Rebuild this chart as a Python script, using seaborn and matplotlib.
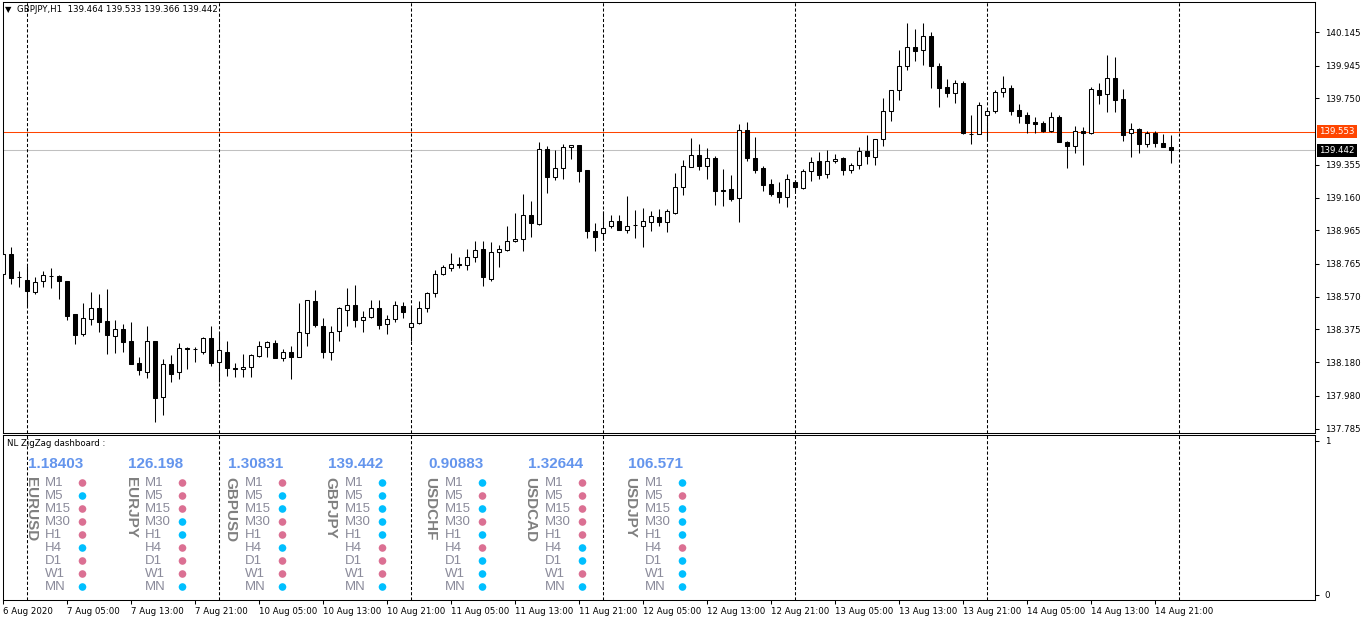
import numpy as np
import pandas as pd
import matplotlib
matplotlib.use("Agg")
import matplotlib.pyplot as plt
import matplotlib.transforms as mtransforms
import seaborn as sns

# ---------------- data ----------------
symbol = "GBPJPY,H1"
header_ohlc = [139.464, 139.533, 139.366, 139.442]

opens = [
    138.703, 138.822, 138.685, 138.667, 138.596, 138.661, 138.691, 138.691, 138.661, 138.470,
    138.351, 138.440, 138.500, 138.423, 138.339, 138.375, 138.304, 138.178, 138.125, 138.304,
    137.976, 138.172, 138.125, 138.262, 138.256, 138.244, 138.327, 138.184, 138.244, 138.143,
    138.137, 138.149, 138.220, 138.268, 138.292, 138.208, 138.244, 138.214, 138.357, 138.542,
    138.393, 138.244, 138.369, 138.494, 138.518, 138.429, 138.452, 138.500, 138.405, 138.435,
    138.512, 138.387, 138.411, 138.500, 138.590, 138.703, 138.739, 138.763, 138.757, 138.804,
    138.852, 138.673, 138.834, 138.846, 138.900, 138.912, 139.055, 139.001, 139.448, 139.281,
    139.335, 139.460, 139.472, 139.323, 138.959, 138.947, 138.989, 139.019, 138.965, 138.995,
    138.989, 139.013, 139.043, 139.013, 139.067, 139.222, 139.341, 139.412, 139.347, 139.394,
    139.204, 139.210, 139.156, 139.561, 139.394, 139.335, 139.239, 139.192, 139.162, 139.251,
    139.216, 139.317, 139.377, 139.299, 139.377, 139.394, 139.323, 139.353, 139.436, 139.400,
    139.508, 139.675, 139.800, 139.943, 140.056, 140.038, 140.122, 139.943, 139.818, 139.782,
    139.841, 139.537, 139.537, 139.651, 139.675, 139.788, 139.812, 139.681, 139.651, 139.609,
    139.603, 139.555, 139.639, 139.490, 139.466, 139.555, 139.543, 139.800, 139.776, 139.871,
    139.746, 139.543, 139.567, 139.478, 139.543, 139.484, 139.464]

highs = [
    138.852, 138.864, 138.721, 138.751, 138.685, 138.721, 138.739, 138.697, 138.661, 138.470,
    138.530, 138.596, 138.584, 138.614, 138.429, 138.405, 138.417, 138.214, 138.393, 138.304,
    138.202, 138.226, 138.292, 138.268, 138.268, 138.333, 138.393, 138.363, 138.309, 138.178,
    138.232, 138.232, 138.309, 138.309, 138.315, 138.256, 138.274, 138.530, 138.548, 138.608,
    138.446, 138.393, 138.506, 138.620, 138.638, 138.488, 138.548, 138.548, 138.464, 138.542,
    138.536, 138.506, 138.542, 138.596, 138.727, 138.757, 138.828, 138.804, 138.852, 138.900,
    138.900, 138.894, 138.876, 138.989, 139.067, 139.180, 139.138, 139.490, 139.466, 139.442,
    139.478, 139.472, 139.472, 139.323, 139.007, 139.079, 139.055, 139.055, 139.168, 139.085,
    139.096, 139.079, 139.090, 139.090, 139.305, 139.383, 139.514, 139.478, 139.454, 139.406,
    139.329, 139.293, 139.597, 139.609, 139.520, 139.347, 139.269, 139.251, 139.299, 139.263,
    139.329, 139.400, 139.430, 139.442, 139.418, 139.400, 139.365, 139.460, 139.532, 139.508,
    139.752, 139.800, 140.038, 140.199, 140.163, 140.199, 140.145, 139.961, 139.865, 139.859,
    139.853, 139.651, 139.728, 139.686, 139.800, 139.883, 139.830, 139.716, 139.669, 139.639,
    139.615, 139.669, 139.651, 139.496, 139.585, 139.579, 139.818, 139.841, 140.008, 139.996,
    139.806, 139.603, 139.573, 139.555, 139.555, 139.537, 139.533]

lows = [
    138.685, 138.643, 138.626, 138.512, 138.584, 138.626, 138.620, 138.554, 138.429, 138.286,
    138.339, 138.399, 138.363, 138.232, 138.238, 138.244, 138.172, 138.107, 138.089, 137.827,
    137.869, 138.065, 138.083, 138.137, 138.184, 138.232, 138.155, 138.065, 138.101, 138.095,
    138.095, 138.095, 138.214, 138.214, 138.208, 138.190, 138.083, 138.214, 138.274, 138.387,
    138.208, 138.196, 138.309, 138.393, 138.387, 138.363, 138.446, 138.375, 138.351, 138.417,
    138.446, 138.309, 138.405, 138.482, 138.566, 138.697, 138.721, 138.739, 138.727, 138.775,
    138.632, 138.661, 138.745, 138.840, 138.894, 138.840, 138.924, 138.995, 139.186, 139.263,
    139.269, 139.389, 139.251, 138.918, 138.840, 138.912, 138.977, 138.965, 138.947, 138.918,
    138.864, 138.959, 138.989, 138.953, 139.061, 139.174, 139.341, 139.323, 139.269, 139.114,
    139.108, 139.138, 139.013, 139.377, 139.305, 139.198, 139.168, 139.126, 139.102, 139.198,
    139.210, 139.257, 139.269, 139.275, 139.365, 139.293, 139.305, 139.329, 139.359, 139.353,
    139.466, 139.615, 139.740, 139.919, 139.973, 139.949, 139.812, 139.698, 139.758, 139.722,
    139.537, 139.478, 139.537, 139.508, 139.663, 139.758, 139.651, 139.603, 139.543, 139.543,
    139.549, 139.549, 139.490, 139.335, 139.424, 139.353, 139.537, 139.716, 139.669, 139.669,
    139.496, 139.400, 139.424, 139.460, 139.460, 139.460, 139.366]

closes = [
    138.822, 138.679, 138.685, 138.602, 138.655, 138.697, 138.691, 138.661, 138.458, 138.345,
    138.446, 138.500, 138.417, 138.345, 138.375, 138.298, 138.172, 138.131, 138.309, 137.970,
    138.172, 138.113, 138.262, 138.256, 138.256, 138.327, 138.178, 138.250, 138.143, 138.137,
    138.149, 138.226, 138.274, 138.298, 138.208, 138.244, 138.214, 138.363, 138.548, 138.399,
    138.244, 138.363, 138.500, 138.518, 138.429, 138.452, 138.500, 138.399, 138.435, 138.518,
    138.482, 138.411, 138.500, 138.590, 138.703, 138.745, 138.763, 138.757, 138.804, 138.846,
    138.685, 138.834, 138.852, 138.900, 138.912, 139.055, 139.007, 139.448, 139.281, 139.335,
    139.460, 139.472, 139.317, 138.959, 138.924, 138.977, 139.019, 138.965, 138.989, 138.995,
    139.019, 139.049, 139.013, 139.079, 139.222, 139.347, 139.412, 139.347, 139.394, 139.198,
    139.198, 139.150, 139.561, 139.394, 139.323, 139.234, 139.180, 139.162, 139.269, 139.222,
    139.317, 139.371, 139.293, 139.377, 139.389, 139.323, 139.353, 139.436, 139.406, 139.508,
    139.675, 139.800, 139.943, 140.056, 140.032, 140.122, 139.943, 139.812, 139.782, 139.841,
    139.543, 139.537, 139.710, 139.675, 139.788, 139.812, 139.675, 139.645, 139.603, 139.597,
    139.555, 139.639, 139.490, 139.466, 139.555, 139.543, 139.806, 139.770, 139.871, 139.740,
    139.532, 139.567, 139.478, 139.543, 139.484, 139.460, 139.442]

time_labels = ["6 Aug 2020", "7 Aug 05:00", "7 Aug 13:00", "7 Aug 21:00", "10 Aug 05:00",
               "10 Aug 13:00", "10 Aug 21:00", "11 Aug 05:00", "11 Aug 13:00", "11 Aug 21:00",
               "12 Aug 05:00", "12 Aug 13:00", "12 Aug 21:00", "13 Aug 05:00", "13 Aug 13:00",
               "13 Aug 21:00", "14 Aug 05:00", "14 Aug 13:00", "14 Aug 21:00"]
time_label_bars = list(range(0, 145, 8))
day_start_bars = [3, 27, 51, 75, 99, 123, 147]

price_ticks = [140.145, 139.945, 139.750, 139.355, 139.160, 138.965, 138.765,
               138.570, 138.375, 138.180, 137.980, 137.785]
bid_price = 139.442
level_price = 139.553

pairs = ["EURUSD", "EURJPY", "GBPUSD", "GBPJPY", "USDCHF", "USDCAD", "USDJPY"]
pair_prices = ["1.18403", "126.198", "1.30831", "139.442", "0.90883", "1.32644", "106.571"]
timeframes = ["M1", "M5", "M15", "M30", "H1", "H4", "D1", "W1", "MN"]
# 1 = blue dot, 0 = pink dot (M1 ... MN)
eurusd_state = [0, 1, 0, 0, 0, 1, 0, 0, 1]
eurjpy_state = [0, 0, 0, 1, 1, 0, 0, 0, 1]
gbpusd_state = [0, 1, 1, 0, 0, 1, 0, 0, 1]
gbpjpy_state = [1, 1, 1, 1, 1, 0, 0, 0, 1]
usdchf_state = [1, 0, 1, 0, 1, 0, 1, 1, 1]
usdcad_state = [0, 0, 0, 0, 0, 1, 1, 0, 1]
usdjpy_state = [1, 0, 1, 1, 1, 0, 1, 1, 1]
pair_states = [eurusd_state, eurjpy_state, gbpusd_state, gbpjpy_state,
               usdchf_state, usdcad_state, usdjpy_state]

# ---------------- style ----------------
sns.set_theme(style="white")
plt.rcParams['font.family'] = ['DejaVu Sans']
plt.rcParams['axes.linewidth'] = 0.75

W, H = 1362, 621
fig = plt.figure(figsize=(W / 100, H / 100), dpi=100)
fig.patch.set_facecolor("white")


def px_rect(left, top, right, bottom):
    return [left / W, 1 - bottom / H, (right - left) / W, (bottom - top) / H]


main_rect = px_rect(2.5, 2.0, 1315.0, 432.5)
ind_rect = px_rect(2.5, 434.5, 1315.0, 600.0)

ax = fig.add_axes(main_rect)
ax2 = fig.add_axes(ind_rect)
for a in (ax, ax2):
    a.set_facecolor("white")
    for s in a.spines.values():
        s.set_color("black")
        s.set_linewidth(0.75)

bar_w = 0.5
x_left, x_right = -0.0625, 164.0

# ---------------- candles ----------------
o = np.array(opens); h = np.array(highs); l = np.array(lows); c = np.array(closes)
x = np.arange(len(o))
bull = c >= o
ax.vlines(x, l, h, color="black", lw=0.75, zorder=3)
ax.bar(x[bull], (c - o)[bull], bottom=o[bull], width=bar_w, color="white",
       edgecolor="black", linewidth=0.75, zorder=4)
ax.bar(x[~bull], (o - c)[~bull], bottom=c[~bull], width=bar_w, color="black",
       edgecolor="black", linewidth=0.75, zorder=4)

ax.axhline(bid_price, color="#C0C0C0", lw=0.75, zorder=1)
ax.axhline(level_price, color="#FF4500", lw=0.75, zorder=1)

for a in (ax, ax2):
    for d in day_start_bars:
        a.axvline(d, color="black", lw=0.75, ls=(0, (3, 2)), zorder=2)

ax.set_xlim(x_left, x_right)
ax.set_ylim(137.762, 140.324)
ax.set_xticks([])
ax.yaxis.tick_right()
ax.set_yticks(price_ticks)
ax.set_yticklabels([f"{p:.3f}" for p in price_ticks])
ax.tick_params(axis="y", which="both", direction="out", length=3, width=0.75,
               pad=4, labelsize=6.2, colors="black", right=True, left=False)

trans = mtransforms.blended_transform_factory(ax.transAxes, ax.transData)
ax.text(1.0030, level_price, f"{level_price:.3f}", transform=trans, color="white",
        fontsize=6.2, va="center", ha="left", clip_on=False, zorder=10,
        bbox=dict(boxstyle="square,pad=0.25", fc="#FF4500", ec="none"))
ax.text(1.0030, bid_price, f"{bid_price:.3f}", transform=trans, color="white",
        fontsize=6.2, va="center", ha="left", clip_on=False, zorder=10,
        bbox=dict(boxstyle="square,pad=0.25", fc="black", ec="none"))

# header
fig.text(5 / W, 1 - 10 / H, "\u25BC", fontsize=6, va="center", ha="left", color="black")
fig.text(17 / W, 1 - 10 / H,
         f"{symbol}  " + " ".join(f"{v:.3f}" for v in header_ohlc),
         fontsize=6.2, va="center", ha="left", color="black")

# ---------------- indicator panel ----------------
ax2.set_xlim(x_left, x_right)
ax2.set_ylim(-0.033, 1.039)
ax2.yaxis.tick_right()
ax2.set_yticks([0, 1])
ax2.set_yticklabels(["0", "1"])
ax2.tick_params(axis="y", direction="out", length=3, width=0.75, pad=4,
                labelsize=6.2, colors="black", right=True, left=False)
ax2.set_xticks(time_label_bars)
ax2.set_xticklabels(time_labels)
ax2.tick_params(axis="x", direction="out", length=3, width=0.75, pad=2,
                labelsize=6.2, colors="black", bottom=True)
for t in ax2.get_xticklabels():
    t.set_ha("left")
fig.text(7 / W, 1 - 443 / H, "NL ZigZag dashboard :", fontsize=6.2,
         va="center", ha="left", color="black")

# dashboard overlay: 1 column unit = 100 px, 1 row unit = 13 px
dash = fig.add_axes(ind_rect)
dash.patch.set_alpha(0)

rows = []
for ci, (pair, states) in enumerate(zip(pairs, pair_states)):
    for ri, (tf, st) in enumerate(zip(timeframes, states)):
        rows.append({"col": ci + 0.555, "row": ri, "state": "up" if st else "down"})
df = pd.DataFrame(rows)
sns.scatterplot(data=df, x="col", y="row", hue="state",
                palette={"up": "#00BFFF", "down": "#DB7093"},
                s=30, edgecolor="none", linewidth=0, legend=False, ax=dash, zorder=5)

dash_font = ["Liberation Sans", "DejaVu Sans"]
for ci, (pair, price) in enumerate(zip(pairs, pair_prices)):
    dash.text(ci + 0.01, -1.46, price, color="#6495ED", fontsize=11, fontweight="bold",
              family=dash_font, va="center", ha="left")
    dash.text(ci - 0.035, -0.45, pair, color="#808080", fontsize=11, fontweight="bold",
              family=dash_font, rotation=-90, va="top", ha="left")
    for ri, tf in enumerate(timeframes):
        dash.text(ci + 0.18, ri, tf, color="#8A8A9A", fontsize=9.5,
                  family=dash_font, va="center", ha="left")

dash.set_xlim((2.5 - 27) / 100, (1315 - 27) / 100)
dash.set_ylim((600 - 483) / 13, (434.5 - 483) / 13)
dash.axis("off")

fig.savefig("out.png", dpi=100, facecolor="white")
